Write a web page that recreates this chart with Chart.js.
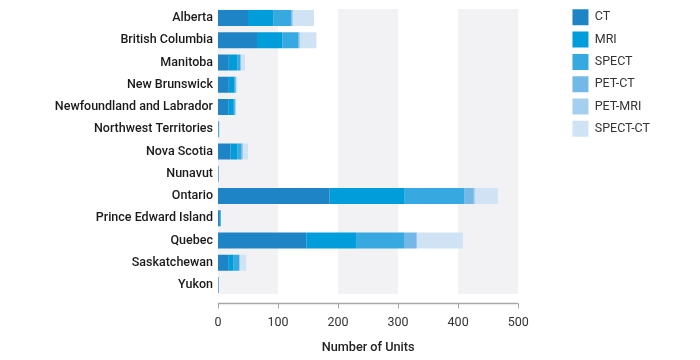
<!DOCTYPE html>
<html>
<head>
<meta charset="utf-8">
<script src="https://cdn.jsdelivr.net/npm/chart.js@4/dist/chart.umd.min.js"></script>
<style>
html,body{margin:0;padding:0;background:#fff;}
#wrap{width:700px;height:360px;position:relative;}
</style>
</head>
<body>
<div id="wrap"><canvas id="c" width="700" height="360"></canvas></div>
<script>
const provinces = ["Alberta","British Columbia","Manitoba","New Brunswick","Newfoundland and Labrador","Northwest Territories","Nova Scotia","Nunavut","Ontario","Prince Edward Island","Quebec","Saskatchewan","Yukon"];
const seriesNames = ["CT","MRI","SPECT","PET-CT","PET-MRI","SPECT-CT"];
const ctUnits      = [50, 65, 18, 18, 17, 1, 21, 1, 186, 3, 147, 17, 1];
const mriUnits     = [42, 42, 14,  9,  8, 0, 11, 0, 125, 1,  84,  9, 0];
const spectUnits   = [30, 27,  5,  2,  3, 1,  7, 0,  99, 1,  80,  9, 0];
const petCtUnits   = [ 2,  2,  1,  1,  1, 0,  2, 0,  16, 0,  20,  1, 0];
const petMriUnits  = [ 1,  0,  0,  0,  0, 0,  0, 0,   2, 0,   0,  0, 0];
const spectCtUnits = [35, 28,  7,  2,  1, 0,  9, 0,  38, 0,  77, 11, 0];
const xTicks = [0, 100, 200, 300, 400, 500];
const seriesColors = ["#1f84c6","#009ddb","#37a9e0","#74b8e7","#a4cfee","#cfe3f5"];

const seriesValues = [ctUnits, mriUnits, spectUnits, petCtUnits, petMriUnits, spectCtUnits];

const bandsPlugin = {
  id: 'bands',
  beforeDatasetsDraw(chart) {
    const {ctx, chartArea, scales} = chart;
    const x = scales.x;
    ctx.save();
    ctx.fillStyle = '#f2f2f4';
    for (let i = 0; i + 1 < xTicks.length; i += 2) {
      const x0 = x.getPixelForValue(xTicks[i]);
      const x1 = x.getPixelForValue(xTicks[i + 1]);
      ctx.fillRect(x0, chartArea.top + 2, x1 - x0, chartArea.bottom - chartArea.top - 4);
    }
    ctx.restore();
  },
  afterDraw(chart) {
    const {ctx, chartArea, scales} = chart;
    const x = scales.x;
    const yLine = chartArea.bottom + 7.5;
    ctx.save();
    ctx.strokeStyle = '#a6a6a6';
    ctx.lineWidth = 1.5;
    ctx.beginPath();
    ctx.moveTo(x.getPixelForValue(xTicks[0]), yLine);
    ctx.lineTo(x.getPixelForValue(xTicks[xTicks.length - 1]), yLine);
    ctx.stroke();
    ctx.lineWidth = 1;
    xTicks.forEach(v => {
      const px = Math.round(x.getPixelForValue(v)) + 0.5;
      ctx.beginPath();
      ctx.moveTo(px, yLine);
      ctx.lineTo(px, yLine + 5);
      ctx.stroke();
    });
    ctx.restore();
  }
};

new Chart(document.getElementById('c'), {
  type: 'bar',
  data: {
    labels: provinces,
    datasets: seriesNames.map((n, i) => ({
      label: n,
      data: seriesValues[i],
      backgroundColor: seriesColors[i],
      borderWidth: 0
    }))
  },
  options: {
    indexAxis: 'y',
    responsive: false,
    animation: false,
    layout: { padding: { top: 3, right: 40, left: 0, bottom: 0 } },
    plugins: {
      tooltip: { enabled: false },
      legend: {
        position: 'right',
        align: 'start',
        labels: {
          boxWidth: 16,
          boxHeight: 16,
          padding: 6.3,
          color: '#333',
          font: { family: 'Roboto', size: 12.5, weight: '400' }
        }
      }
    },
    scales: {
      x: {
        stacked: true,
        min: 0,
        max: 500,
        afterBuildTicks(s) { s.ticks = xTicks.map(v => ({ value: v })); },
        afterFit(s) { s.height = 64; },
        grid: { display: false, drawTicks: false },
        border: { display: false },
        ticks: { padding: 19, color: '#333', font: { family: 'Roboto', size: 12.5 } },
        title: { display: true, text: 'Number of Units', color: '#222', padding: { top: 4, bottom: 5 }, font: { family: 'Roboto', size: 12.7, weight: '500' } }
      },
      xTop: {
        type: 'linear',
        axis: 'x',
        position: 'top',
        display: true,
        grid: { display: false, drawTicks: false },
        border: { display: false },
        ticks: { display: false },
        afterFit(s) { s.height = 4; }
      },
      y: {
        stacked: true,
        afterFit(s) { s.width = 218; s.paddingTop = 0; s.paddingBottom = 0; },
        grid: { display: false, drawTicks: false },
        border: { display: false },
        ticks: { padding: 5, color: '#1a1a1a', font: { family: 'Roboto', size: 12.5, weight: '500' } }
      },
      yRight: {
        type: 'category',
        axis: 'y',
        position: 'right',
        display: true,
        grid: { display: false, drawTicks: false },
        border: { display: false },
        ticks: { display: false },
        afterFit(s) { s.width = 48; s.paddingTop = 0; s.paddingBottom = 0; }
      }
    }
  },
  plugins: [bandsPlugin]
});
</script>
</body>
</html>
